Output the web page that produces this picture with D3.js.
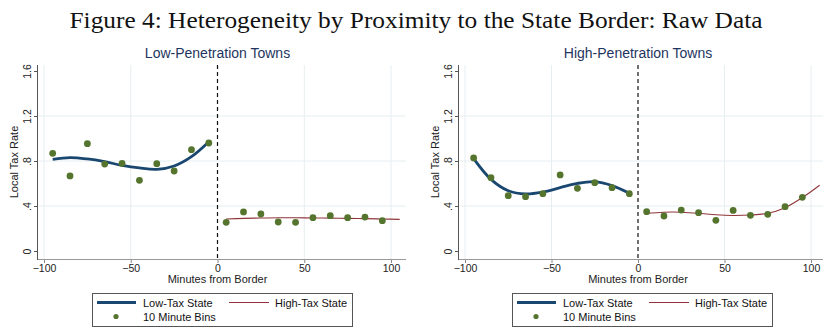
<!DOCTYPE html>
<html>
<head>
<meta charset="utf-8">
<script src="https://cdn.jsdelivr.net/npm/d3@7"></script>
<style>
  html, body { margin: 0; padding: 0; background: #fff; }
  svg { display: block; }
</style>
</head>
<body>
<svg id="fig" width="832" height="334"></svg>
<script>
// Ten-minute bin midpoints and fitted-curve grid points (minutes from border)
const binMinutesLow  = [-95, -85, -75, -65, -55, -45, -35, -25, -15, -5];
const binMinutesHigh = [5, 15, 25, 35, 45, 55, 65, 75, 85, 95];
const fitMinutesLow  = [-95, -85, -75, -65, -55, -45, -35, -25, -15, -5];
const fitMinutesHigh = [5, 15, 25, 35, 45, 55, 65, 75, 85, 95, 105];

// Low-penetration towns
const lowPenBinsLowTax  = [0.868, 0.667, 0.954, 0.773, 0.779, 0.628, 0.776, 0.711, 0.901, 0.960];
const lowPenBinsHighTax = [0.255, 0.347, 0.329, 0.258, 0.255, 0.296, 0.314, 0.296, 0.302, 0.270];
const lowPenFitLowTax   = [0.815, 0.830, 0.818, 0.794, 0.761, 0.738, 0.726, 0.756, 0.839, 0.972];
const lowPenFitHighTax  = [0.285, 0.290, 0.293, 0.295, 0.295, 0.294, 0.292, 0.290, 0.288, 0.285, 0.281];

// High-penetration towns
const highPenBinsLowTax  = [0.827, 0.652, 0.492, 0.483, 0.510, 0.676, 0.557, 0.607, 0.563, 0.510];
const highPenBinsHighTax = [0.350, 0.311, 0.364, 0.341, 0.273, 0.361, 0.317, 0.326, 0.394, 0.477];
const highPenFitLowTax   = [0.821, 0.637, 0.536, 0.507, 0.524, 0.563, 0.601, 0.616, 0.581, 0.513];
const highPenFitHighTax  = [0.335, 0.345, 0.345, 0.336, 0.322, 0.316, 0.320, 0.335, 0.385, 0.475, 0.585];

// Axis ticks
const xTicks = [-100, -50, 0, 50, 100];
const yTicks = [0, 0.4, 0.8, 1.2, 1.6];
const yTickLabels = ["0", ".4", ".8", "1.2", "1.6"];

const panelTitles = ["Low-Penetration Towns", "High-Penetration Towns"];
const legendLabels = ["Low-Tax State", "High-Tax State", "10 Minute Bins"];

const NAVY = "#1a476f", MAROON = "#90353b", GREEN = "#55752f";
const SANS = "'Liberation Sans', Arial, sans-serif";

const svg = d3.select("#fig");

// Figure title
const title = svg.append("text")
  .attr("x", 416).attr("y", 28)
  .attr("text-anchor", "middle")
  .attr("font-family", "'Liberation Serif', 'DejaVu Serif', serif")
  .attr("font-size", 23)
  .attr("fill", "#111")
  .text("Figure 4: Heterogeneity by Proximity to the State Border: Raw Data");
title.attr("textLength", 693).attr("lengthAdjust", "spacingAndGlyphs");

const panels = [
  { frame: [38, 406], xr: [44, 391], title: panelTitles[0],
    binsL: lowPenBinsLowTax, binsH: lowPenBinsHighTax, fitL: lowPenFitLowTax, fitH: lowPenFitHighTax,
    legend: [92, 352] },
  { frame: [459, 823], xr: [465, 811], title: panelTitles[1],
    binsL: highPenBinsLowTax, binsH: highPenBinsHighTax, fitL: highPenFitLowTax, fitH: highPenFitHighTax,
    legend: [512, 772] }
];

const plotTop = 65, plotBottom = 259;
const y = d3.scaleLinear().domain([0, 1.6]).range([251, 71]);

panels.forEach(p => {
  const g = svg.append("g");
  const x = d3.scaleLinear().domain([-100, 100]).range(p.xr);
  const [fl, fr] = p.frame;
  const cx = (p.xr[0] + p.xr[1]) / 2;

  // Gridlines
  g.append("g").selectAll("line").data(yTicks.filter(v => v > 0 && v < 1.6)).join("line")
    .attr("x1", fl).attr("x2", fr).attr("y1", d => y(d)).attr("y2", d => y(d))
    .attr("stroke", "#e6eef1").attr("stroke-width", 1);
  g.append("g").selectAll("line").data(xTicks.filter(v => v !== 0)).join("line")
    .attr("x1", d => x(d)).attr("x2", d => x(d)).attr("y1", plotTop).attr("y2", plotBottom)
    .attr("stroke", "#e6eef1").attr("stroke-width", 1);

  // Bottom axis
  const xa = g.append("g").attr("transform", `translate(0,${plotBottom})`)
    .call(d3.axisBottom(x).tickValues(xTicks).tickSize(4).tickSizeOuter(0).tickPadding(2));
  xa.select(".domain").remove();
  xa.selectAll(".tick line").attr("stroke", "#888");
  xa.selectAll(".tick text").attr("font-family", SANS).attr("font-size", 10.5).attr("fill", "#222");
  g.append("line").attr("x1", fl).attr("x2", fr).attr("y1", plotBottom + 0.5).attr("y2", plotBottom + 0.5)
    .attr("stroke", "#999").attr("stroke-width", 1);

  // Left axis
  const ya = g.append("g").attr("transform", `translate(${fl},0)`)
    .call(d3.axisLeft(y).tickValues(yTicks).tickSize(4).tickSizeOuter(0)
      .tickFormat((d, i) => yTickLabels[i]));
  ya.select(".domain").remove();
  ya.selectAll(".tick line").attr("stroke", "#555");
  ya.selectAll(".tick text")
    .attr("font-family", SANS).attr("font-size", 10.5).attr("fill", "#222")
    .attr("text-anchor", "middle").attr("x", 0).attr("dy", null)
    .attr("transform", "translate(-11,0) rotate(-90)")
    .attr("dominant-baseline", "central");
  g.append("line").attr("x1", fl - 0.5).attr("x2", fl - 0.5).attr("y1", plotTop).attr("y2", plotBottom + 1)
    .attr("stroke", "#555").attr("stroke-width", 1);

  // Border at zero
  g.append("line").attr("x1", x(0)).attr("x2", x(0)).attr("y1", plotTop).attr("y2", plotBottom)
    .attr("stroke", "#111").attr("stroke-width", 1.2).attr("stroke-dasharray", "4,3");

  // Fitted curves
  const line = d3.line().x(d => x(d[0])).y(d => y(d[1])).curve(d3.curveCatmullRom.alpha(0.5));
  g.append("path").datum(d3.zip(fitMinutesHigh, p.fitH)).attr("d", line)
    .attr("fill", "none").attr("stroke", MAROON).attr("stroke-width", 1.1);
  g.append("path").datum(d3.zip(fitMinutesLow, p.fitL)).attr("d", line)
    .attr("fill", "none").attr("stroke", NAVY).attr("stroke-width", 2.8);

  // Binned means
  const bins = d3.zip(binMinutesLow, p.binsL).concat(d3.zip(binMinutesHigh, p.binsH));
  g.append("g").selectAll("circle").data(bins).join("circle")
    .attr("cx", d => x(d[0])).attr("cy", d => y(d[1])).attr("r", 3.4)
    .attr("fill", GREEN);

  // Panel title and axis titles
  g.append("text").attr("x", cx).attr("y", 58).attr("text-anchor", "middle")
    .attr("font-family", SANS).attr("font-size", 14).attr("fill", "#1e3560").text(p.title);
  g.append("text").attr("x", cx).attr("y", 283).attr("text-anchor", "middle")
    .attr("font-family", SANS).attr("font-size", 11).attr("fill", "#222").text("Minutes from Border");
  g.append("text").attr("transform", `translate(${fl - 20},162) rotate(-90)`).attr("text-anchor", "middle")
    .attr("font-family", SANS).attr("font-size", 11).attr("fill", "#222").text("Local Tax Rate");

  // Legend
  const [lx0, lx1] = p.legend;
  const lg = g.append("g");
  lg.append("rect").attr("x", lx0 + 0.5).attr("y", 293.5).attr("width", lx1 - lx0).attr("height", 33)
    .attr("fill", "#fff").attr("stroke", "#555").attr("stroke-width", 1);
  lg.append("line").attr("x1", lx0 + 5).attr("x2", lx0 + 44).attr("y1", 302.5).attr("y2", 302.5)
    .attr("stroke", NAVY).attr("stroke-width", 2.8);
  lg.append("line").attr("x1", lx0 + 137).attr("x2", lx0 + 177).attr("y1", 302.5).attr("y2", 302.5)
    .attr("stroke", MAROON).attr("stroke-width", 1.1);
  lg.append("circle").attr("cx", lx0 + 24).attr("cy", 316.5).attr("r", 2.6).attr("fill", GREEN);
  const lt = [[lx0 + 51, 306.5, legendLabels[0]], [lx0 + 183, 306.5, legendLabels[1]], [lx0 + 51, 321, legendLabels[2]]];
  lg.selectAll("text").data(lt).join("text")
    .attr("x", d => d[0]).attr("y", d => d[1])
    .attr("font-family", SANS).attr("font-size", 11).attr("fill", "#111").text(d => d[2]);
});
</script>
</body>
</html>
